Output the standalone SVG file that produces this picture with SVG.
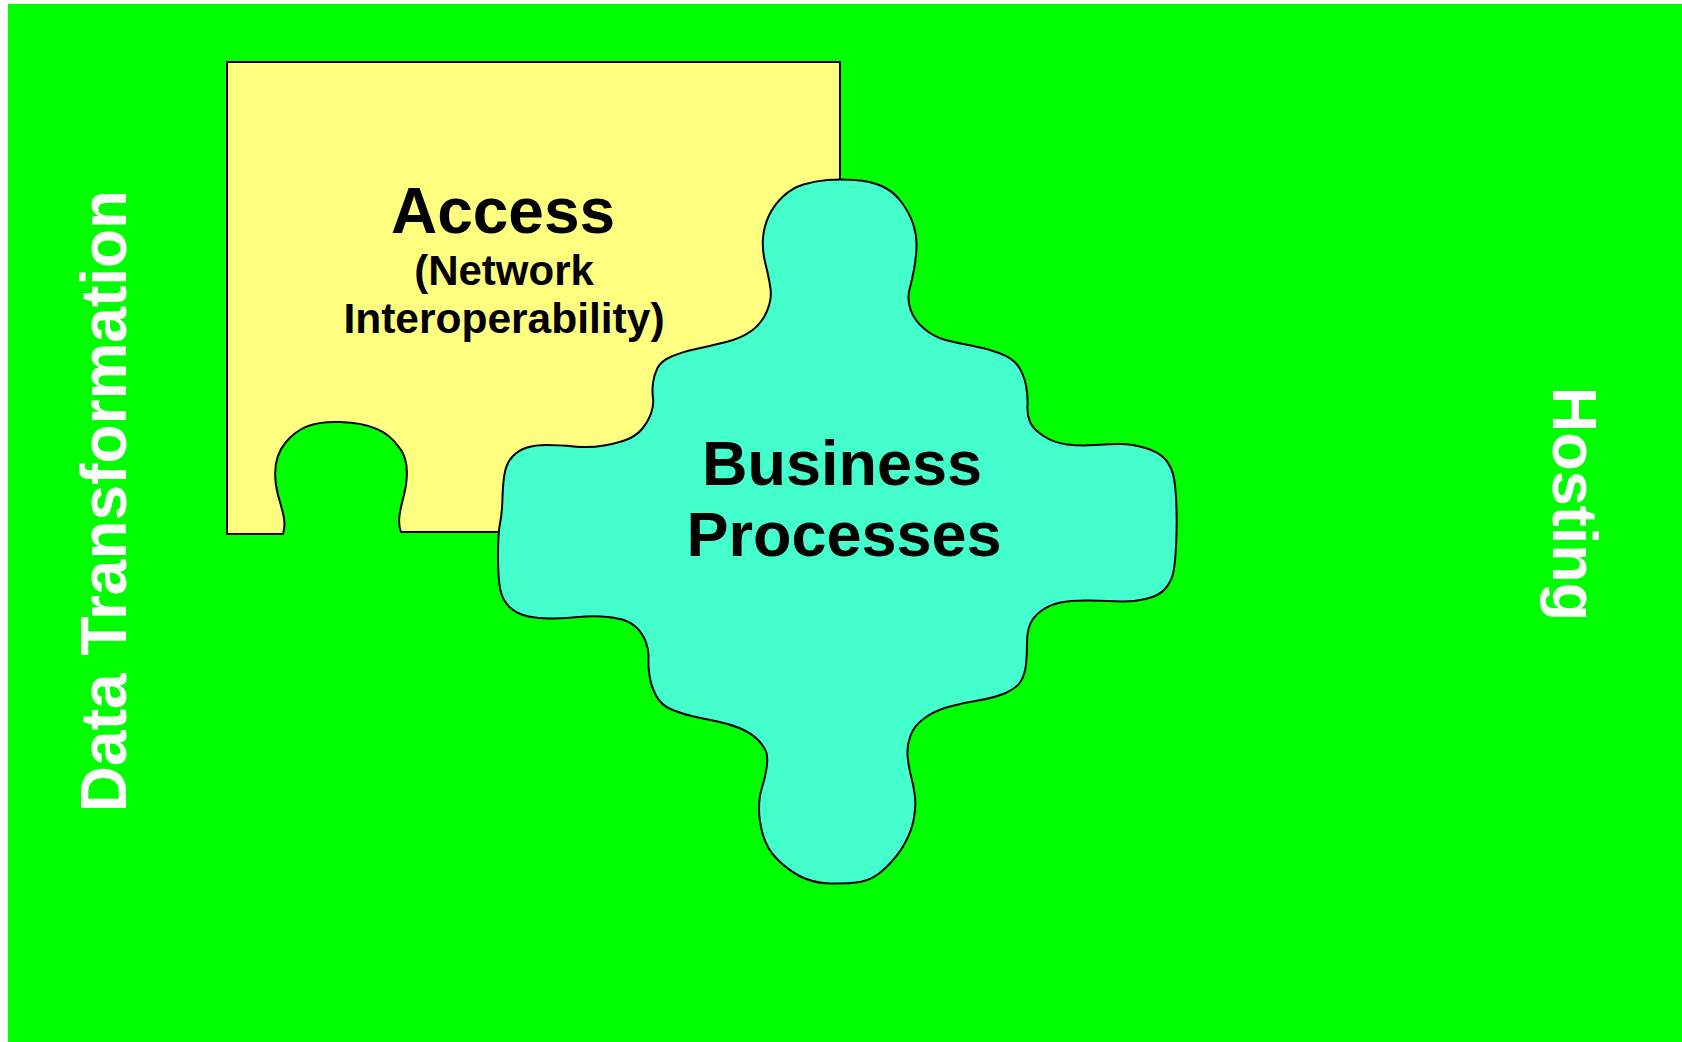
<svg xmlns="http://www.w3.org/2000/svg" width="1682" height="1042" viewBox="0 0 1682 1042">
<style>
.shape{stroke:#000;stroke-width:2;stroke-linejoin:round}
.t{font-family:"Liberation Sans",Arial,sans-serif;font-weight:bold}
.dark{fill:#000}
.light{fill:#fff}
</style>
<rect x="0" y="0" width="1682" height="1042" fill="#fff"/>
<rect id="background" x="8" y="4" width="1674" height="1038" fill="#00ff00"/>
<g id="access">
<path class="shape" fill="#ffff80" d="M227,62 H840 V532 H401 C397,522 400,510 404,495 C408,478 409,458 398,446 C388,432 372,423 340,422 C312,421 298,428 286,442 C274,456 273,475 278,495 C282,510 287,522 283,534 H227 Z"/>
<text class="t dark" x="503" y="233" font-size="64" text-anchor="middle">Access</text>
<text class="t dark" x="504" y="285" font-size="42" text-anchor="middle">(Network</text>
<text class="t dark" x="504" y="333" font-size="42.5" text-anchor="middle">Interoperability)</text>
</g>
<g id="business">
<path class="shape" fill="#44ffcc" d="M827.5,180 Q840,179 855,180 Q870,181 881.5,186 Q893,191 901,201.5 Q909,212 913,223.5 Q917,235 916.5,247 Q916,259 914,269.5 Q912,280 909.5,289.5 Q907,299 910.5,309.5 Q914,320 924,328.5 Q934,337 945.5,340 Q957,343 971,345.5 Q985,348 999,353 Q1013,358 1018.5,366.5 Q1024,375 1026,385.5 Q1028,396 1027.5,405.5 Q1027,415 1030,422 Q1033,429 1043.5,436 Q1054,443 1067.5,444.5 Q1081,446 1095,445 Q1109,444 1120.5,444 Q1132,444 1145.5,448 Q1159,452 1165.5,459.5 Q1172,467 1174,478.5 Q1176,490 1176.5,509 Q1177,528 1176,547 Q1175,566 1173,574 Q1171,582 1165,589 Q1159,596 1145.5,599 Q1132,602 1120.5,601.5 Q1109,601 1090.5,600.5 Q1072,600 1060.5,602.5 Q1049,605 1041,611 Q1033,617 1030,624.5 Q1027,632 1027,643.5 Q1027,655 1026,664.5 Q1025,674 1021,681 Q1017,688 1005.5,693 Q994,698 978,700.5 Q962,703 948,707 Q934,711 924,718.5 Q914,726 910.5,735.5 Q907,745 907.5,754.5 Q908,764 911,776 Q914,788 915,797 Q916,806 914,818 Q912,830 905,843 Q898,856 885.5,868 Q873,880 860,882 Q847,884 830,883.5 Q813,883 800.5,876.5 Q788,870 777.5,859.5 Q767,849 763,835 Q759,821 759,809 Q759,797 762,787.5 Q765,778 766.5,768.5 Q768,759 766.5,753 Q765,747 758,740 Q751,733 740.5,728.5 Q730,724 717.5,721.5 Q705,719 693.5,716.5 Q682,714 671.5,709.5 Q661,705 656,695.5 Q651,686 649.5,675.5 Q648,665 648.5,658 Q649,651 646,642.5 Q643,634 637,628 Q631,622 622,619.5 Q613,617 601.5,616.5 Q590,616 578.5,617 Q567,618 553.5,618.5 Q540,619 528.5,616.5 Q517,614 510,607.5 Q503,601 500.5,590.5 Q498,580 498,556.5 Q498,533 500,523.5 Q502,514 502.5,497.5 Q503,481 505,471.5 Q507,462 513,456 Q519,450 527,447.5 Q535,445 546.5,445 Q558,445 574,446.5 Q590,448 604,445.5 Q618,443 627,439.5 Q636,436 642,429 Q648,422 651,413.5 Q654,405 653,398 Q652,391 653,383 Q654,375 657.5,368 Q661,361 671.5,356.5 Q682,352 696,349 Q710,346 726,342 Q742,338 752,330.5 Q762,323 767,311 Q772,299 770.5,288.5 Q769,278 765.5,264 Q762,250 763,238 Q764,226 769,215.5 Q774,205 783,196.5 Q792,188 803.5,184.5 Q815,181 827.5,180 Z"/>
<text class="t dark" x="842" y="485" font-size="63" text-anchor="middle">Business</text>
<text class="t dark" x="844" y="556" font-size="63" text-anchor="middle">Processes</text>
</g>
<g id="data-transformation">
<text class="t light" transform="translate(126,501) rotate(-90)" font-size="64" text-anchor="middle">Data Transformation</text>
</g>
<g id="hosting">
<text class="t light" transform="translate(1553,504) rotate(90)" font-size="63" text-anchor="middle">Hosting</text>
</g>
<g id="connectors"/>
</svg>
